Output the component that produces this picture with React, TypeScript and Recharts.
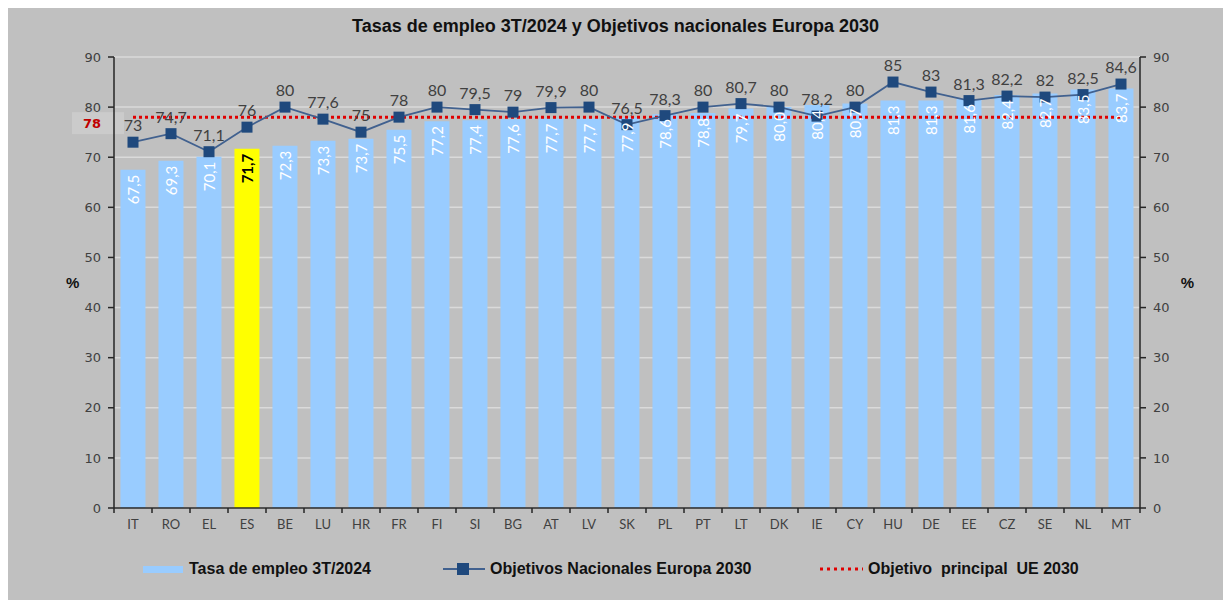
import { ComposedChart, Bar, Line, XAxis, YAxis, CartesianGrid, ReferenceLine, LabelList, Cell } from "recharts"

const countries = ["IT", "RO", "EL", "ES", "BE", "LU", "HR", "FR", "FI", "SI", "BG", "AT", "LV", "SK", "PL", "PT", "LT", "DK", "IE", "CY", "HU", "DE", "EE", "CZ", "SE", "NL", "MT"]
const employmentRate = [67.5, 69.3, 70.1, 71.7, 72.3, 73.3, 73.7, 75.5, 77.2, 77.4, 77.6, 77.7, 77.7, 77.9, 78.6, 78.8, 79.7, 80.0, 80.4, 80.7, 81.3, 81.3, 81.6, 82.4, 82.7, 83.5, 83.7]
const nationalTargets = [73, 74.7, 71.1, 76, 80, 77.6, 75, 78, 80, 79.5, 79, 79.9, 80, 76.5, 78.3, 80, 80.7, 80, 78.2, 80, 85, 83, 81.3, 82.2, 82, 82.5, 84.6]
const euTarget = 78
const yTicks = [0, 10, 20, 30, 40, 50, 60, 70, 80, 90]
const highlighted = "ES"

const data = countries.map((country, i) => ({
  country,
  rate: employmentRate[i],
  target: nationalTargets[i],
}))

const W = 1223
const H = 592
const margin = { top: 49, right: 41, bottom: 62, left: 56 }
const axisW = 50
const band = (W - margin.left - margin.right - axisW * 2) / countries.length

const comma = (v: number, digits?: number) =>
  (digits === undefined ? String(v) : v.toFixed(digits)).replace(".", ",")

function CountryTick(props: any) {
  const { x, y, payload, index } = props
  const last = index === countries.length - 1
  return (
    <g>
      <line x1={x - band / 2} x2={x - band / 2} y1={y} y2={y + 5} stroke="#262626" strokeWidth={1.5} />
      {last && <line x1={x + band / 2} x2={x + band / 2} y1={y} y2={y + 5} stroke="#262626" strokeWidth={1.5} />}
      <text x={x} y={y + 21} textAnchor="middle" fill="#404040" fontSize={13} fontFamily="Lato">
        {payload.value}
      </text>
    </g>
  )
}

function BarValue(props: any) {
  const { x, y, width, value, index } = props
  const cx = x + width / 2
  const ty = y + 5
  const isHi = countries[index] === highlighted
  return (
    <text
      x={cx}
      y={ty}
      transform={`rotate(-90 ${cx} ${ty})`}
      textAnchor="end"
      dominantBaseline="central"
      fill={isHi ? "#000" : "#fff"}
      fontWeight={isHi ? 700 : 400}
      fontSize={15}
      fontFamily="Lato"
    >
      {comma(value, 1)}
    </text>
  )
}

function EuLabel(props: any) {
  const { viewBox } = props
  const bx = viewBox.x - 42
  const by = viewBox.y
  return (
    <g>
      <rect x={bx} y={by - 5} width={52} height={22} fill="#cbcbcb" />
      <text x={bx + 20} y={by + 6} dominantBaseline="central" textAnchor="middle" fill="#c00000" fontWeight={700} fontSize={13} fontFamily="DejaVu Sans">
        {euTarget}
      </text>
    </g>
  )
}

const SquareDot = (p: any) => (
  <rect key={`d-${p.index}`} x={p.cx - 5.5} y={p.cy - 5.5} width={11} height={11} fill="#1f497d" />
)

const axisTick = { fill: "#404040", fontSize: 13, fontFamily: "DejaVu Sans" }
const axisStroke = { stroke: "#262626", strokeWidth: 1.5 }
const legendText = { fontFamily: "Liberation Sans", fontWeight: 700, fontSize: 16, color: "#111" }

export default function App() {
  return (
    <div style={{ position: "relative", width: W, height: H, background: "#c0c0c0" }}>
      <div
        style={{
          position: "absolute",
          top: 8,
          left: 0,
          width: W - 8,
          textAlign: "center",
          fontFamily: "Liberation Sans",
          fontWeight: 700,
          fontSize: 18,
          color: "#111",
        }}
      >
        Tasas de empleo 3T/2024 y Objetivos nacionales Europa 2030
      </div>
      <ComposedChart width={W} height={H} data={data} margin={margin} barCategoryGap="17%">
        <CartesianGrid vertical={false} stroke="#dadada" strokeWidth={1.5} yAxisId="left" />
        <XAxis
          dataKey="country"
          interval={0}
          tickSize={0}
          tickMargin={0}
          height={30}
          tickLine={false}
          axisLine={axisStroke}
          tick={<CountryTick />}
        />
        <YAxis
          yAxisId="left"
          width={axisW}
          domain={[0, 90]}
          ticks={yTicks}
          tick={axisTick}
          tickMargin={7}
          tickLine={axisStroke}
          axisLine={axisStroke}
          label={{ value: "%", position: "insideLeft", offset: 2, fill: "#111", fontWeight: 700, fontSize: 15, fontFamily: "Liberation Sans" }}
        />
        <YAxis
          yAxisId="right"
          orientation="right"
          width={axisW}
          domain={[0, 90]}
          ticks={yTicks}
          tick={axisTick}
          tickMargin={7}
          tickLine={axisStroke}
          axisLine={axisStroke}
          label={{ value: "%", position: "insideRight", offset: -4, fill: "#111", fontWeight: 700, fontSize: 15, fontFamily: "Liberation Sans" }}
        />
        <Bar yAxisId="left" dataKey="rate" fill="#99ccff" isAnimationActive={false}>
          {data.map((d) => (
            <Cell key={d.country} fill={d.country === highlighted ? "#ffff00" : "#99ccff"} />
          ))}
          <LabelList dataKey="rate" content={<BarValue />} />
        </Bar>
        <ReferenceLine
          yAxisId="left"
          segment={[
            { x: countries[0], y: euTarget },
            { x: countries[countries.length - 1], y: euTarget },
          ]}
          stroke="#e00000"
          strokeWidth={3}
          strokeDasharray="3 3"
        />
        <ReferenceLine yAxisId="left" y={euTarget} stroke="none" label={<EuLabel />} />
        <Line
          yAxisId="right"
          dataKey="target"
          stroke="#41618f"
          strokeWidth={1.8}
          dot={SquareDot}
          activeDot={false}
          isAnimationActive={false}
        >
          <LabelList
            dataKey="target"
            position="top"
            offset={11}
            fill="#404040"
            fontSize={16}
            fontFamily="Lato"
            formatter={(v: any) => comma(Number(v))}
          />
        </Line>
      </ComposedChart>
      <div style={{ position: "absolute", top: 552, left: 135, display: "flex", alignItems: "center", ...legendText }}>
        <span style={{ display: "inline-block", width: 40, height: 7, background: "#99ccff", marginRight: 6 }} />
        Tasa de empleo 3T/2024
      </div>
      <div style={{ position: "absolute", top: 552, left: 435, display: "flex", alignItems: "center", ...legendText }}>
        <svg width={42} height={12} style={{ marginRight: 5 }}>
          <line x1={0} x2={42} y1={6} y2={6} stroke="#41618f" strokeWidth={1.8} />
          <rect x={14} y={0} width={12} height={12} fill="#1f497d" />
        </svg>
        Objetivos Nacionales Europa 2030
      </div>
      <div style={{ position: "absolute", top: 552, left: 811, display: "flex", alignItems: "center", ...legendText }}>
        <svg width={44} height={12} style={{ marginRight: 5 }}>
          <line x1={1} x2={44} y1={6} y2={6} stroke="#e00000" strokeWidth={3} strokeDasharray="3 4" />
        </svg>
        Objetivo&nbsp; principal&nbsp; UE 2030
      </div>
    </div>
  )
}
